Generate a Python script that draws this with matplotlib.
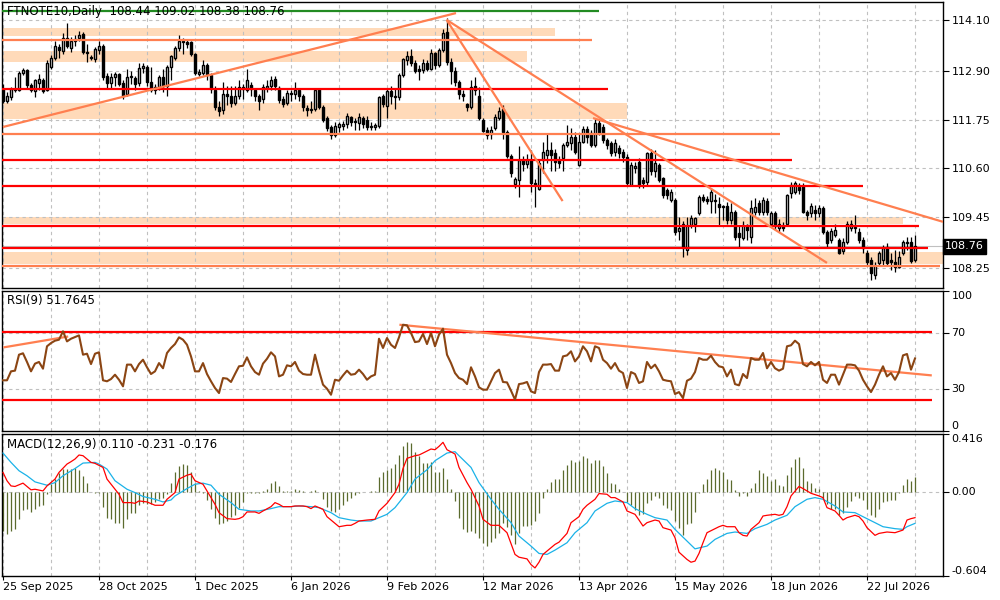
import matplotlib
matplotlib.use("Agg")
import matplotlib.pyplot as plt
import numpy as np

plt.rcParams['font.family'] = ['DejaVu Sans']

# daily bars, oldest first (one bar per trading day)
opens = [112.48, 112.20, 112.28, 112.48, 112.46, 112.85, 112.92, 112.56, 112.44, 112.62,
         112.70, 112.45, 113.00, 113.20, 113.48, 113.38, 113.68, 113.45, 113.60, 113.68,
         113.78, 113.36, 113.24, 113.18, 113.40, 113.50, 112.78, 112.62, 112.75, 112.82,
         112.62, 112.35, 112.75, 112.74, 112.62, 112.98, 113.00, 112.65, 112.46, 112.52,
         112.75, 112.55, 113.00, 113.22, 113.45, 113.62, 113.58, 113.58, 113.30, 112.82,
         112.85, 113.05, 112.80, 112.45, 112.05, 111.98, 112.35, 112.32, 112.15, 112.30,
         112.52, 112.45, 112.58, 112.45, 112.30, 112.25, 112.50, 112.55, 112.72, 112.50,
         112.25, 112.15, 112.38, 112.35, 112.45, 112.30, 112.02, 111.98, 112.00, 112.48,
         112.05, 111.80, 111.58, 111.40, 111.58, 111.60, 111.66, 111.82, 111.70, 111.68,
         111.80, 111.75, 111.60, 111.58, 111.60, 112.30, 112.08, 112.42, 112.32, 112.28,
         112.80, 113.15, 113.25, 113.10, 112.95, 112.92, 113.10, 112.95, 113.32, 113.05,
         113.40, 113.82, 113.12, 112.90, 112.65, 112.35, 112.12, 112.06, 112.55, 112.30,
         111.75, 111.50, 111.42, 111.55, 111.80, 112.00, 111.45, 110.90, 110.23, 110.33,
         110.80, 110.70, 110.80, 110.25, 110.12, 110.80, 110.92, 111.04, 110.97, 110.80,
         110.84, 111.16, 111.20, 111.35, 110.68, 111.23, 111.53, 111.43, 111.16, 111.67,
         111.59, 111.27, 111.20, 110.99, 111.08, 111.00, 110.88, 110.21, 110.60, 110.76,
         110.33, 110.29, 110.96, 110.55, 110.68, 110.37, 110.09, 109.86, 109.86, 109.12,
         109.30, 108.68, 109.27, 109.30, 109.54, 109.93, 109.87, 109.82, 109.86, 109.76,
         109.71, 109.71, 109.38, 109.58, 109.07, 108.95, 109.27, 108.99, 109.58, 109.78,
         109.58, 109.82, 109.30, 109.54, 109.19, 109.27, 109.30, 110.01, 110.05, 110.17,
         110.19, 109.58, 109.54, 109.62, 109.54, 109.66, 109.11, 108.91, 109.03, 108.91,
         108.64, 108.87, 109.19, 109.20, 109.11, 108.91, 108.60, 108.44, 108.08, 108.36,
         108.45, 108.75, 108.44, 108.40, 108.28, 108.60, 108.84, 108.87, 108.44]
highs = [112.60, 112.40, 112.52, 112.75, 112.90, 112.98, 112.95, 112.62, 112.72, 112.82,
         112.74, 113.15, 113.28, 113.60, 113.55, 113.80, 114.03, 113.70, 113.75, 113.85,
         113.82, 113.55, 113.28, 113.48, 113.60, 113.55, 112.85, 112.85, 112.88, 112.86,
         112.70, 112.95, 112.90, 112.78, 113.10, 113.10, 113.05, 113.00, 112.60, 112.80,
         112.95, 113.05, 113.28, 113.50, 113.75, 113.68, 113.65, 113.62, 113.32, 112.95,
         113.15, 113.08, 112.85, 112.55, 112.20, 112.65, 112.55, 112.55, 112.55, 112.70,
         112.60, 112.95, 112.65, 112.50, 112.35, 112.60, 112.70, 112.78, 112.78, 112.55,
         112.30, 112.45, 112.45, 112.65, 112.48, 112.35, 112.10, 112.20, 112.50, 112.50,
         112.10, 111.85, 111.62, 111.70, 111.70, 111.72, 111.92, 111.85, 111.80, 111.90,
         111.85, 111.85, 111.70, 111.68, 112.32, 112.35, 112.48, 112.55, 112.50, 112.85,
         113.22, 113.38, 113.42, 113.15, 113.05, 113.18, 113.15, 113.42, 113.35, 113.45,
         113.90, 114.15, 113.20, 113.00, 112.70, 112.45, 112.15, 112.70, 112.75, 112.52,
         111.80, 111.58, 111.60, 111.88, 112.05, 112.10, 111.50, 110.95, 110.40, 111.12,
         110.90, 110.95, 111.04, 110.35, 110.80, 111.23, 111.43, 111.23, 111.05, 110.90,
         111.20, 111.63, 111.55, 111.45, 111.43, 111.60, 111.60, 111.50, 111.78, 111.75,
         111.65, 111.32, 111.25, 111.30, 111.15, 111.05, 110.95, 110.75, 110.75, 110.85,
         110.40, 111.00, 111.05, 111.04, 110.72, 110.40, 110.15, 110.12, 109.90, 109.46,
         109.35, 109.46, 109.50, 109.46, 109.97, 110.00, 109.95, 110.13, 110.00, 109.93,
         109.74, 109.80, 109.78, 109.62, 109.27, 109.35, 109.30, 109.86, 109.90, 109.85,
         109.93, 109.90, 109.60, 109.60, 109.40, 109.33, 110.00, 110.28, 110.30, 110.25,
         110.25, 109.62, 109.78, 109.74, 109.74, 109.72, 109.15, 109.20, 109.30, 108.95,
         108.95, 109.35, 109.38, 109.50, 109.20, 108.98, 108.68, 108.50, 108.40, 108.65,
         108.80, 108.85, 108.60, 108.67, 108.66, 108.90, 108.99, 108.99, 109.02]
lows = [112.15, 112.15, 112.22, 112.40, 112.44, 112.80, 112.50, 112.40, 112.28, 112.45,
        112.38, 112.42, 112.95, 113.15, 113.20, 113.30, 113.45, 113.35, 113.50, 113.60,
        113.30, 113.12, 113.17, 113.12, 113.30, 112.70, 112.48, 112.48, 112.55, 112.55,
        112.25, 112.30, 112.60, 112.45, 112.55, 112.85, 112.55, 112.40, 112.35, 112.45,
        112.40, 112.30, 112.70, 113.15, 113.38, 113.30, 113.45, 113.25, 112.80, 112.78,
        112.80, 112.70, 112.38, 111.98, 111.85, 111.88, 112.10, 112.05, 112.10, 112.25,
        112.25, 112.40, 112.30, 112.20, 111.98, 112.15, 112.40, 112.45, 112.45, 112.15,
        112.05, 112.10, 112.20, 112.25, 112.20, 111.95, 111.85, 111.90, 111.95, 112.00,
        111.70, 111.48, 111.30, 111.35, 111.45, 111.50, 111.55, 111.60, 111.50, 111.50,
        111.55, 111.50, 111.50, 111.50, 111.55, 112.05, 111.80, 112.12, 112.00, 112.22,
        112.75, 113.05, 113.02, 112.85, 112.70, 112.85, 112.90, 112.92, 112.95, 113.00,
        113.35, 113.05, 112.60, 112.55, 112.25, 112.20, 111.95, 112.00, 112.33, 111.75,
        111.45, 111.30, 111.30, 111.50, 111.75, 111.30, 110.85, 110.40, 110.15, 109.93,
        110.55, 110.60, 110.05, 109.70, 110.10, 110.50, 110.72, 110.53, 110.53, 110.60,
        110.53, 111.10, 111.04, 110.95, 110.66, 111.20, 111.20, 111.10, 111.10, 111.38,
        111.20, 111.05, 110.90, 110.90, 110.85, 110.75, 110.20, 110.18, 110.50, 110.15,
        110.15, 110.20, 110.45, 110.41, 110.28, 109.90, 109.88, 109.80, 109.03, 108.91,
        108.52, 108.56, 109.20, 109.10, 109.50, 109.80, 109.75, 109.54, 109.54, 109.27,
        109.38, 109.30, 109.30, 108.91, 108.75, 108.90, 108.90, 108.83, 109.50, 109.50,
        109.50, 109.50, 109.25, 109.15, 109.10, 109.12, 109.25, 109.90, 110.00, 110.00,
        109.55, 109.38, 109.45, 109.38, 109.45, 109.05, 108.75, 108.85, 108.98, 108.58,
        108.58, 108.82, 109.12, 109.07, 108.85, 108.60, 108.33, 107.97, 108.00, 108.30,
        108.30, 108.30, 108.20, 108.16, 108.25, 108.55, 108.68, 108.36, 108.38]
closes = [112.20, 112.30, 112.48, 112.45, 112.85, 112.92, 112.58, 112.45, 112.68, 112.72,
          112.42, 113.10, 113.20, 113.50, 113.40, 113.68, 113.50, 113.62, 113.66, 113.76,
          113.36, 113.32, 113.20, 113.42, 113.50, 112.75, 112.62, 112.75, 112.82, 112.60,
          112.32, 112.75, 112.78, 112.60, 112.98, 113.02, 112.65, 112.45, 112.52, 112.75,
          112.55, 113.00, 113.25, 113.45, 113.62, 113.58, 113.55, 113.30, 112.85, 112.88,
          113.05, 112.80, 112.48, 112.05, 111.95, 112.35, 112.30, 112.15, 112.32, 112.52,
          112.48, 112.68, 112.48, 112.30, 112.20, 112.52, 112.55, 112.70, 112.55, 112.22,
          112.12, 112.38, 112.35, 112.45, 112.30, 112.05, 111.98, 112.00, 112.45, 112.05,
          111.75, 111.55, 111.38, 111.60, 111.65, 111.66, 111.84, 111.70, 111.72, 111.82,
          111.65, 111.58, 111.58, 111.62, 112.28, 112.12, 112.42, 112.32, 112.28, 112.80,
          113.18, 113.25, 113.08, 112.90, 112.90, 113.10, 112.95, 113.32, 113.05, 113.40,
          113.80, 113.12, 112.90, 112.65, 112.35, 112.30, 112.05, 112.52, 112.45, 111.80,
          111.48, 111.40, 111.52, 111.82, 111.95, 111.45, 110.90, 110.50, 110.34, 110.80,
          110.70, 110.80, 110.25, 110.20, 110.72, 111.00, 111.04, 110.92, 110.76, 110.72,
          111.16, 111.23, 111.35, 111.00, 111.23, 111.53, 111.35, 111.16, 111.67, 111.43,
          111.27, 111.16, 110.97, 111.20, 110.96, 110.88, 110.25, 110.68, 110.66, 110.21,
          110.25, 110.96, 110.55, 110.72, 110.33, 109.97, 109.97, 110.05, 109.11, 109.20,
          108.72, 109.27, 109.42, 109.42, 109.93, 109.86, 109.82, 110.05, 109.82, 109.70,
          109.70, 109.38, 109.58, 108.99, 108.99, 109.27, 109.15, 109.66, 109.70, 109.58,
          109.86, 109.58, 109.54, 109.23, 109.30, 109.19, 109.97, 110.21, 110.25, 110.09,
          109.58, 109.50, 109.71, 109.54, 109.66, 109.11, 108.83, 109.12, 109.15, 108.60,
          108.87, 109.30, 109.30, 109.21, 108.91, 108.71, 108.40, 108.12, 108.32, 108.60,
          108.72, 108.36, 108.38, 108.28, 108.50, 108.87, 108.87, 108.42, 108.76]

rsi = [36.2, 36.2, 42.6, 43.1, 54.5, 55.5, 49.3, 42.6, 48.1, 49.3,
       44.5, 60.5, 62.8, 64.5, 65.2, 71.2, 64.0, 65.9, 67.1, 68.3,
       54.5, 55.2, 47.8, 55.2, 56.2, 36.2, 35.5, 37.1, 40.2, 36.6,
       31.9, 47.4, 47.4, 42.6, 47.8, 50.9, 45.5, 40.7, 42.6, 48.5,
       44.8, 55.7, 59.3, 62.1, 66.9, 65.2, 61.6, 53.3, 42.6, 42.6,
       48.5, 40.7, 35.5, 30.7, 27.1, 37.8, 37.4, 35.0, 40.7, 46.2,
       46.6, 52.6, 46.2, 42.1, 40.2, 48.1, 51.6, 56.2, 53.3, 39.0,
       40.2, 46.9, 46.2, 49.3, 43.1, 40.7, 40.2, 40.2, 54.5, 43.1,
       33.1, 30.2, 25.9, 36.6, 35.9, 39.7, 43.1, 40.2, 40.7, 43.8,
       40.7, 36.6, 39.0, 40.2, 65.9, 59.3, 66.4, 61.6, 59.3, 66.9,
       75.9, 75.5, 70.0, 63.5, 64.0, 69.3, 62.1, 70.0, 60.5, 68.8,
       73.1, 54.5, 48.5, 41.4, 37.8, 36.6, 33.5, 45.5, 39.0, 31.2,
       29.5, 29.5, 35.5, 41.4, 43.8, 35.0, 34.7, 28.8, 22.4, 33.5,
       34.0, 35.0, 28.3, 27.1, 42.1, 47.4, 47.4, 47.8, 43.1, 43.1,
       53.3, 54.0, 56.9, 49.7, 53.3, 60.5, 56.9, 49.7, 60.5, 59.3,
       50.9, 48.5, 44.5, 48.5, 43.1, 41.4, 30.7, 42.1, 40.7, 34.3,
       35.5, 49.3, 44.8, 47.4, 42.6, 36.6, 35.9, 35.5, 26.4, 27.8,
       23.5, 35.9, 37.4, 42.1, 52.1, 50.9, 50.9, 53.8, 49.3, 46.2,
       45.5, 39.0, 43.8, 33.5, 32.6, 40.7, 37.8, 52.1, 50.9, 50.9,
       55.7, 44.8, 49.3, 44.8, 43.1, 44.5, 60.5, 61.2, 64.5, 62.1,
       47.8, 46.2, 49.3, 46.9, 49.3, 36.6, 34.3, 40.2, 40.2, 33.1,
       40.2, 47.4, 47.4, 46.9, 43.1, 36.6, 31.9, 27.8, 33.1, 40.2,
       46.2, 39.0, 41.4, 36.6, 42.1, 54.0, 55.0, 43.8, 51.8]

macd_hist = [-0.281, -0.305, -0.281, -0.269, -0.197, -0.130, -0.125, -0.144, -0.120, -0.101,
             -0.096, -0.017, 0.055, 0.096, 0.135, 0.164, 0.164, 0.164, 0.169, 0.159,
             0.116, 0.067, 0.002, -0.005, -0.005, -0.106, -0.185, -0.197, -0.221, -0.226,
             -0.257, -0.197, -0.149, -0.154, -0.096, -0.077, -0.089, -0.089, -0.072, -0.053,
             -0.041, -0.017, 0.067, 0.140, 0.183, 0.197, 0.193, 0.145, 0.067, 0.005,
             -0.005, -0.058, -0.120, -0.185, -0.233, -0.226, -0.209, -0.178, -0.168, -0.113,
             -0.072, -0.010, -0.005, -0.005, -0.005, 0.007, 0.024, 0.063, 0.077, 0.039,
             0.005, 0.005, 0.010, 0.019, 0.012, 0.005, 0.002, 0.005, 0.015, 0.002,
             -0.053, -0.106, -0.137, -0.144, -0.120, -0.096, -0.065, -0.041, -0.024, -0.010,
             -0.002, -0.002, 0.005, 0.007, 0.104, 0.140, 0.159, 0.169, 0.200, 0.265,
             0.332, 0.356, 0.351, 0.289, 0.255, 0.205, 0.207, 0.212, 0.145, 0.145,
             0.169, 0.096, 0.019, -0.065, -0.185, -0.269, -0.288, -0.281, -0.293, -0.329,
             -0.370, -0.389, -0.361, -0.329, -0.293, -0.221, -0.250, -0.312, -0.377, -0.298,
             -0.245, -0.245, -0.240, -0.209, -0.154, -0.041, 0.019, 0.072, 0.096, 0.096,
             0.159, 0.193, 0.231, 0.217, 0.224, 0.255, 0.241, 0.207, 0.231, 0.231,
             0.188, 0.135, 0.067, 0.055, 0.019, 0.002, -0.072, -0.096, -0.130, -0.168,
             -0.161, -0.082, -0.058, -0.029, -0.041, -0.096, -0.113, -0.130, -0.209, -0.257,
             -0.312, -0.233, -0.221, -0.144, -0.010, 0.055, 0.096, 0.159, 0.169, 0.159,
             0.145, 0.092, 0.087, 0.015, -0.029, -0.010, -0.029, 0.031, 0.067, 0.159,
             0.135, 0.116, 0.080, 0.092, 0.048, 0.043, 0.120, 0.176, 0.236, 0.248,
             0.169, 0.080, 0.067, 0.031, 0.024, -0.053, -0.089, -0.125, -0.125, -0.168,
             -0.154, -0.106, -0.065, -0.029, -0.041, -0.058, -0.120, -0.168, -0.178, -0.125,
             -0.072, -0.065, -0.058, -0.058, -0.010, 0.048, 0.096, 0.077, 0.110]

# MACD lines, read at the bars where they were legible: (bar, value)
macd_red = [(0, 0.140), (1, 0.080), (2, 0.043), (3, 0.039), (5, 0.063), (6, 0.039), (7, 0.015),
            (8, 0.019), (10, 0.007), (11, 0.043), (13, 0.092), (14, 0.140), (16, 0.200), (17, 0.217),
            (18, 0.236), (19, 0.265), (20, 0.260), (22, 0.212), (23, 0.205), (25, 0.176), (26, 0.092),
            (28, 0.019), (29, -0.017), (30, -0.077), (32, -0.077), (33, -0.082), (34, -0.065),
            (36, -0.072), (38, -0.096), (40, -0.096), (41, -0.053), (43, -0.005), (44, 0.092),
            (46, 0.120), (47, 0.128), (48, 0.080), (50, 0.055), (51, 0.007), (53, -0.089),
            (54, -0.149), (56, -0.192), (58, -0.197), (59, -0.192), (60, -0.178), (61, -0.144),
            (63, -0.144), (64, -0.154), (65, -0.137), (67, -0.106), (68, -0.077), (69, -0.089),
            (70, -0.106), (72, -0.106), (73, -0.101), (75, -0.101), (76, -0.106), (77, -0.120),
            (78, -0.101), (80, -0.125), (81, -0.178), (83, -0.226), (84, -0.250), (86, -0.240),
            (87, -0.240), (88, -0.226), (89, -0.209), (91, -0.202), (93, -0.197), (94, -0.137),
            (96, -0.082), (98, -0.005), (99, 0.055), (100, 0.168), (101, 0.241), (103, 0.260),
            (104, 0.265), (105, 0.279), (107, 0.308), (108, 0.303), (109, 0.327), (110, 0.356),
            (111, 0.303), (113, 0.272), (114, 0.176), (116, 0.067), (117, 0.019), (119, -0.101),
            (120, -0.197), (122, -0.240), (124, -0.240), (126, -0.293), (128, -0.449),
            (129, -0.469), (131, -0.481), (132, -0.522), (133, -0.546), (134, -0.505),
            (135, -0.449), (137, -0.401), (138, -0.377), (139, -0.361), (141, -0.298),
            (142, -0.221), (144, -0.178), (145, -0.125), (146, -0.096), (148, -0.053),
            (149, -0.012), (151, -0.017), (152, -0.041), (153, -0.041), (155, -0.072),
            (156, -0.137), (158, -0.161), (159, -0.202), (160, -0.245), (161, -0.221),
            (163, -0.202), (164, -0.209), (165, -0.257), (167, -0.274), (168, -0.329),
            (169, -0.433), (171, -0.485), (172, -0.505), (173, -0.497), (174, -0.442),
            (175, -0.365), (176, -0.293), (178, -0.264), (179, -0.250), (180, -0.240),
            (181, -0.250), (183, -0.250), (184, -0.293), (185, -0.312), (186, -0.317),
            (187, -0.269), (189, -0.221), (190, -0.173), (191, -0.168), (193, -0.161),
            (194, -0.168), (195, -0.161), (196, -0.106), (197, -0.029), (199, 0.039),
            (200, 0.024), (201, 0.007), (202, -0.010), (204, -0.029), (205, -0.041),
            (206, -0.113), (208, -0.137), (209, -0.168), (210, -0.202), (211, -0.185),
            (213, -0.168), (214, -0.178), (215, -0.209), (216, -0.257), (218, -0.312),
            (219, -0.298), (221, -0.288), (223, -0.293), (225, -0.274), (226, -0.202),
            (227, -0.192), (228, -0.185)]
macd_blue = [(0, 0.279), (2, 0.212), (4, 0.152), (6, 0.116), (8, 0.072), (11, 0.048), (13, 0.067),
             (15, 0.116), (18, 0.168), (20, 0.207), (23, 0.212), (24, 0.200), (26, 0.164),
             (28, 0.080), (31, 0.019), (33, -0.005), (35, -0.033), (38, -0.053), (40, -0.072),
             (42, -0.058), (43, -0.029), (46, 0.024), (48, 0.055), (50, 0.063), (52, 0.048),
             (54, -0.017), (57, -0.077), (59, -0.125), (62, -0.137), (64, -0.137), (67, -0.120),
             (69, -0.106), (72, -0.106), (74, -0.101), (77, -0.106), (79, -0.113), (82, -0.149),
             (84, -0.185), (87, -0.202), (89, -0.209), (92, -0.209), (93, -0.197), (96, -0.161),
             (98, -0.113), (101, -0.005), (103, 0.092), (106, 0.159), (108, 0.224), (111, 0.279),
             (113, 0.289), (114, 0.260), (117, 0.176), (119, 0.067), (122, -0.053), (124, -0.125),
             (127, -0.221), (129, -0.317), (132, -0.389), (134, -0.442), (136, -0.449),
             (138, -0.418), (141, -0.365), (143, -0.293), (146, -0.221), (148, -0.137),
             (151, -0.082), (153, -0.065), (156, -0.077), (158, -0.120), (161, -0.161),
             (163, -0.185), (166, -0.202), (168, -0.269), (171, -0.353), (173, -0.409),
             (176, -0.389), (178, -0.341), (181, -0.298), (183, -0.288), (186, -0.298),
             (188, -0.264), (191, -0.233), (193, -0.202), (196, -0.168), (198, -0.106),
             (201, -0.053), (203, -0.041), (205, -0.053), (208, -0.101), (210, -0.144),
             (213, -0.149), (215, -0.178), (218, -0.221), (220, -0.250), (223, -0.264),
             (225, -0.269), (226, -0.250), (228, -0.226)]

date_labels = ["25 Sep 2025", "28 Oct 2025", "1 Dec 2025", "6 Jan 2026", "9 Feb 2026",
               "12 Mar 2026", "13 Apr 2026", "15 May 2026", "18 Jun 2026", "22 Jul 2026"]
price_ticks = [114.10, 112.90, 111.75, 110.60, 109.45, 108.25]

# drawn objects on the price chart (bar index / price)
red_levels = [112.48, 110.80, 110.19, 109.25, 108.73]
red_ends = [151.2, 197.2, 215.0, 229.0, 231.2]
coral_levels = [113.63, 111.42, 108.30]
coral_ends = [147.2, 194.2, 234.2]
green_level, green_end = 114.32, 149.0
zone_lo = [113.73, 113.11, 111.76, 109.30, 108.35]
zone_hi = [113.92, 113.38, 112.15, 109.45, 108.63]
zone_ends = [138.0, 131.0, 156.0, 225.0, 236.0]
trend_x0 = [0.0, 110.9, 110.9, 147.5]
trend_p0 = [111.58, 114.11, 114.11, 111.79]
trend_x1 = [113.25, 139.9, 206.0, 235.0]
trend_p1 = [114.27, 109.83, 108.37, 109.34]

rsi_levels = [70.9, 22.4]
rsi_trend_x0 = [0.1, 99.1]
rsi_trend_y0 = [59.7, 75.9]
rsi_trend_x1 = [16.3, 232.2]
rsi_trend_y1 = [67.5, 39.7]

RED = '#ff0000'
CORAL = '#ff7f50'
PEACH = '#ffdab9'
GRID = '#c0c0c0'

fig = plt.figure(figsize=(10, 6), dpi=100)
ax = fig.add_axes([0.002, 0.52, 0.941, 0.4767])
ax_rsi = fig.add_axes([0.002, 0.2817, 0.941, 0.2333])
ax_macd = fig.add_axes([0.002, 0.04, 0.941, 0.2367])

x = np.arange(len(closes))
o = np.array(opens)
c = np.array(closes)
up = c >= o

for a in (ax, ax_rsi, ax_macd):
    a.set_xlim(-0.25, 235)
    a.yaxis.tick_right()
    a.tick_params(axis='y', length=4, width=0.8, pad=2, labelsize=8, colors='black')
    a.tick_params(axis='x', bottom=False, labelbottom=False)
    for s in a.spines.values():
        s.set_linewidth(1)
        s.set_color('black')
    for gx in range(0, len(closes), 12):
        a.axvline(gx, color=GRID, lw=0.8, ls=(0, (3, 3)), zorder=1)

# --- price panel
ax.set_ylim(107.777, 114.532)
for lo, hi, xe in zip(zone_lo, zone_hi, zone_ends):
    ax.fill_between([-1, xe], lo, hi, color=PEACH, lw=0, zorder=0.5)
for p in price_ticks:
    ax.axhline(p, color=GRID, lw=0.8, ls=(0, (3, 3)), zorder=1)
ax.axhline(closes[-1], color=GRID, lw=0.8, zorder=1)

ax.vlines(x, lows, highs, color='black', lw=0.9, zorder=3)
body_lo = np.minimum(o, c)
body_h = np.maximum(np.abs(c - o), 0.012)
ax.bar(x[up], body_h[up], width=0.62, bottom=body_lo[up], facecolor='white',
       edgecolor='black', lw=1.0, zorder=3.5)
ax.bar(x[~up], body_h[~up], width=0.62, bottom=body_lo[~up], facecolor='black',
       edgecolor='black', lw=1.0, zorder=3.5)

for p, xe in zip(red_levels, red_ends):
    ax.plot([-1, xe], [p, p], color=RED, lw=1.6, zorder=5, solid_capstyle='butt')
for p, xe in zip(coral_levels, coral_ends):
    ax.plot([-1, xe], [p, p], color=CORAL, lw=1.6, zorder=5, solid_capstyle='butt')
ax.plot([-1, green_end], [green_level, green_level], color='#228b22', lw=1.6, zorder=5,
        solid_capstyle='butt')
for x0, p0, x1, p1 in zip(trend_x0, trend_p0, trend_x1, trend_p1):
    ax.plot([x0, x1], [p0, p1], color=CORAL, lw=1.6, zorder=5, solid_capstyle='butt')

ax.set_yticks(price_ticks)
ax.set_yticklabels(['%.2f' % p for p in price_ticks])
ax.text(0.0055, 0.965, "FTNOTE10,Daily  %.2f %.2f %.2f %.2f" % (opens[-1], highs[-1], lows[-1], closes[-1]),
        transform=ax.transAxes, fontsize=8.5, va='center', ha='left', color='black', zorder=10)
ax.text(1.002, closes[-1], "%.2f" % closes[-1], transform=ax.get_yaxis_transform(),
        ha='left', va='center', fontsize=8, color='white', zorder=10, clip_on=False,
        bbox=dict(boxstyle='square,pad=0.2', fc='black', ec='black'))

# --- RSI panel
ax_rsi.set_ylim(0, 100)
for lv in (70, 30):
    ax_rsi.axhline(lv, color=GRID, lw=0.8, ls=(0, (3, 3)), zorder=1)
for lv in rsi_levels:
    ax_rsi.plot([-1, rsi_trend_x1[1]], [lv, lv], color=RED, lw=1.6, zorder=3, solid_capstyle='butt')
for x0, y0, x1, y1 in zip(rsi_trend_x0, rsi_trend_y0, rsi_trend_x1, rsi_trend_y1):
    ax_rsi.plot([x0, x1], [y0, y1], color=CORAL, lw=1.6, zorder=3, solid_capstyle='butt')
ax_rsi.plot(x, rsi, color='#8b4513', lw=1.5, zorder=4)
ax_rsi.set_yticks([100, 70, 30, 0])
ax_rsi.set_yticklabels(['100', '70', '30', '0'])
for lab, va in zip(ax_rsi.get_yticklabels(), ['top', 'center', 'center', 'bottom']):
    lab.set_va(va)
ax_rsi.text(0.0055, 0.93, "RSI(9) %.4f" % 51.7645, transform=ax_rsi.transAxes,
            fontsize=8.5, va='center', ha='left', color='black')

# --- MACD panel
ax_macd.set_ylim(-0.604, 0.416)
ax_macd.axhline(0, color=GRID, lw=0.8, ls=(0, (3, 3)), zorder=1)
ax_macd.vlines(x, 0, macd_hist, color='#5b6b2e', lw=0.9, zorder=2)
rx, ry = zip(*macd_red)
bx, by = zip(*macd_blue)
ax_macd.plot(bx, by, color='#1ab2e8', lw=0.9, zorder=3)
ax_macd.plot(rx, ry, color='#ff0000', lw=0.9, zorder=4)
ax_macd.set_yticks([0.416, 0.0, -0.604])
ax_macd.set_yticklabels(['0.416', '0.00', '-0.604'])
for lab, va in zip(ax_macd.get_yticklabels(), ['top', 'center', 'bottom']):
    lab.set_va(va)
ax_macd.text(0.0055, 0.923, "MACD(12,26,9) 0.110 -0.231 -0.176", transform=ax_macd.transAxes,
             fontsize=8.5, va='center', ha='left', color='black')

ax_macd.set_xticks(range(0, 24 * len(date_labels), 24))
ax_macd.set_xticklabels(date_labels, ha='left')
ax_macd.tick_params(axis='x', bottom=True, labelbottom=True, length=3, width=0.8,
                    pad=1.5, labelsize=8, colors='black')

fig.savefig("out.png", dpi=100, facecolor='white')
